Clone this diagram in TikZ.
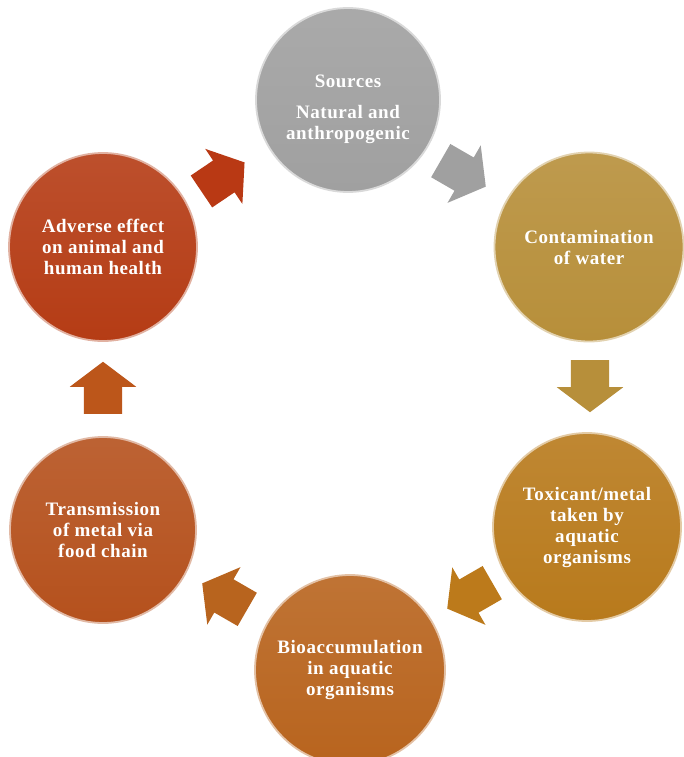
\documentclass[tikz,border=0pt]{standalone}
\usepackage{fontspec}
\setmainfont{Liberation Serif}
\newfontfamily\discfont{Liberation Serif}[LetterSpace=3]
\usetikzlibrary{shapes.arrows}
\definecolor{cSrc}{HTML}{A0A0A0}
\definecolor{cCon}{HTML}{B78F3A}
\definecolor{cTox}{HTML}{B87A1C}
\definecolor{cBio}{HTML}{B8641E}
\definecolor{cTra}{HTML}{B5511D}
\definecolor{cAdv}{HTML}{B53C15}
\begin{document}
\begin{tikzpicture}[x=1pt,y=-1pt,
  disc/.style={circle, inner sep=0pt, text=white, align=center,
    font=\discfont\bfseries\fontsize{19}{21}\selectfont,
    top color=#1!90!white, bottom color=#1, draw=#1!40!white, line width=1.8pt},
  blockarrow/.style={single arrow, draw=none, inner xsep=0pt, inner ysep=19pt,
    minimum height=52pt, single arrow head extend=14pt,
    single arrow tip angle=106, fill=#1}]
\useasboundingbox (0,0) rectangle (684,757);
\clip (0,0) rectangle (684,757);
\fill[white] (0,0) rectangle (684,757);

\node[disc=cSrc, minimum size=184pt] (src) at (348,100)
  {\rule{0pt}{31pt}Sources\\[10pt]Natural and\\anthropogenic};
\node[disc=cCon, minimum size=189pt] (con) at (589,247)
  {Contamination\\of water};
\node[disc=cTox, minimum size=188pt] (tox) at (587,527)
  {Toxicant/metal\\taken by\\aquatic\\organisms};
\node[disc=cBio, minimum size=190pt] (bio) at (350,670)
  {Bioaccumulation\\in aquatic\\organisms};
\node[disc=cTra, minimum size=186pt] (tra) at (103,530)
  {Transmission\\of metal via\\food chain};
\node[disc=cAdv, minimum size=188pt] (adv) at (103,247)
  {Adverse effect\\on animal and\\human health};

\node[blockarrow=cAdv!95!red, rotate=34] (a1) at (217,181) {};
\node[blockarrow=cSrc, rotate=-30] (a2) at (457,170) {};
\node[blockarrow=cCon, rotate=-90] (a3) at (590,379) {};
\node[blockarrow=cTox!95!orange, rotate=-150] (a4) at (476,592) {};
\node[blockarrow=cBio, rotate=150] (a5) at (231,600) {};
\node[blockarrow=cTra!90!orange, rotate=90] (a6) at (103,395) {};
\end{tikzpicture}
\end{document}
